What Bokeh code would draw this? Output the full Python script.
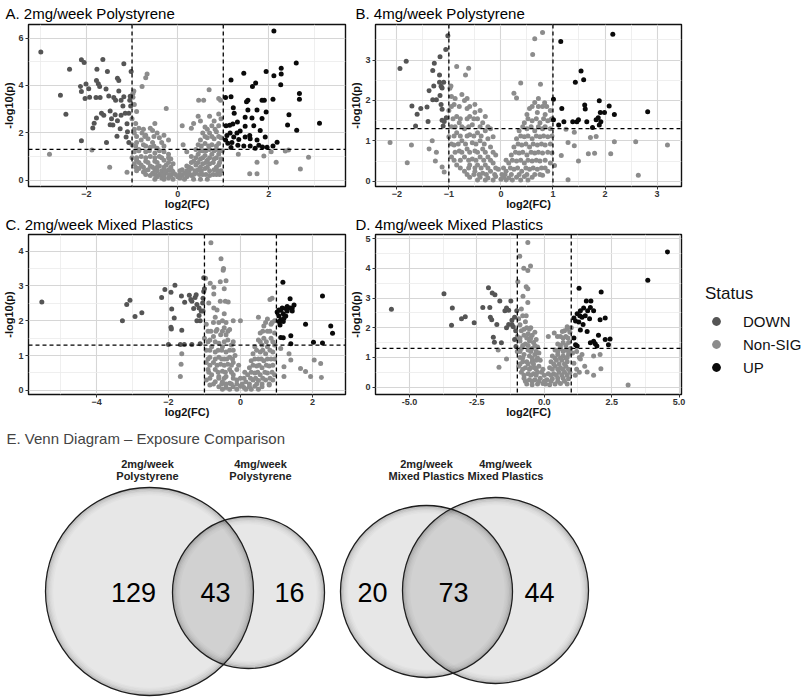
from bokeh.plotting import figure
from bokeh.layouts import column, row
from bokeh.models import (Range1d, FixedTicker, Span, Legend, LegendItem,
                          NumeralTickFormatter, ColumnDataSource)
from bokeh.embed import file_html
from bokeh.resources import INLINE
from bokeh.core.properties import value

# ---------------------------------------------------------------- data
STATUS = ["DOWN", "Non-SIG", "UP"]
STATUS_COLORS = ["#555555", "#8c8c8c", "#0a0a0a"]
FC_CUT = 1.0
P_CUT = 1.301

# Panel A: 2mg/week Polystyrene  (log2FC, -log10 p)
A_DOWN = [(-3.0,5.41),(-2.57,3.59),(-2.45,2.79),(-2.37,4.68),(-2.11,5.08),(-2.05,4.97),(-2.13,3.96),
          (-2.11,3.74),(-2.01,4.06),(-1.95,3.86),(-2.03,3.45),(-1.93,3.50),(-1.77,4.68),(-1.78,4.21),
          (-1.74,4.07),(-1.71,3.96),(-1.79,3.49),(-1.70,3.49),(-1.64,5.09),(-1.54,4.59),(-1.57,3.85),
          (-1.51,3.56),(-1.67,2.83),(-1.62,2.74),(-1.48,2.92),(-1.78,2.63),(-1.86,2.21),(-1.83,2.41),
          (-1.56,1.59),(-2.11,1.67),(-1.40,3.49),(-1.36,3.38),(-1.32,4.30),(-1.29,4.21),(-1.29,3.77),
          (-1.37,2.76),(-1.32,2.51),(-1.42,2.33),(-1.18,4.92),(-1.18,3.52),(-1.24,3.38),(-1.20,3.13),
          (-1.15,2.83),(-1.24,2.74),(-1.11,2.39),(-1.07,2.83),(-1.02,4.59),(-1.04,3.54),(-1.05,3.38),
          (-1.03,3.13),(-1.13,1.83),(-1.07,1.59),(-1.33,1.86),(-1.26,2.17),(-1.48,2.34),(-1.10,2.05),
          (-1.45,2.60)]
A_UP = [(2.11,6.30),(2.60,4.95),(2.27,4.73),(2.27,4.48),(2.11,4.41),(1.94,4.59),(1.45,4.51),(1.17,4.23),
        (1.71,4.10),(1.64,3.96),(2.26,4.03),(2.67,3.66),(2.67,3.42),(2.09,3.42),(1.90,3.38),(1.85,3.38),
        (1.54,3.38),(1.51,3.31),(1.17,3.52),(1.05,3.49),(1.22,3.06),(1.24,2.83),(1.54,2.97),(1.74,2.97),
        (1.94,2.88),(2.44,2.77),(2.41,2.33),(2.61,2.11),(3.11,2.41),(1.85,2.61),(1.63,2.63),(1.48,2.66),
        (1.31,2.46),(1.21,2.37),(1.14,2.32),(1.06,2.30),(1.48,2.28),(1.67,2.30),(1.81,2.10),(1.37,2.08),
        (1.30,2.00),(1.15,2.00),(1.08,1.89),(1.23,1.83),(1.05,1.70),(1.19,1.59),(1.34,1.72),(1.48,1.83),
        (1.59,1.75),(1.58,1.89),(1.74,1.70),(1.92,1.83),(1.78,1.48),(1.32,1.48),(1.45,1.45),(1.70,1.35),
        (1.86,1.41),(1.96,1.39),(2.18,1.61),(2.09,1.45),(1.10,1.56),(1.17,1.38),(1.59,1.45)]
A_NONSIG = [(-2.81,1.10),(-1.88,1.28),(-1.49,0.55),(-1.11,0.34),(-0.67,4.48),(-0.70,4.32),(-0.78,3.96),
            (-0.96,3.77),(-0.98,3.66),(-0.25,3.03),(0.69,3.82),(0.46,3.38),(0.57,3.38),(0.90,3.45),
            (0.94,3.38),(1.33,1.10),(1.74,0.76),(1.58,0.28),(1.74,0.28),(2.16,0.76),(2.36,1.24),
            (2.43,1.28),(2.69,0.48),(2.87,0.97),(2.05,1.20),(1.89,1.03),
            (-0.98,3.5),(-0.95,3.2),(-0.9,2.9),(-1.0,2.6),(-0.92,2.4),(-0.85,2.2),(-0.78,2.0),(-0.95,2.0),
            (-0.7,1.9),(-0.6,2.2),(-0.5,2.4),(-0.55,2.1),(-0.45,2.0),(-0.3,1.9),(-0.4,1.8),(-0.65,1.75),
            (-0.8,1.7),(-0.9,1.6),(-1.0,1.5),(-0.75,1.5),(-0.55,1.6),(-0.35,1.6),(-0.2,1.7),(-0.6,1.4),
            (-0.45,1.35),(-0.85,1.3),(-0.95,1.2),(-0.7,1.2),(-0.5,1.15),(-0.3,1.2),(-0.2,1.1),(-0.8,1.0),
            (-0.6,1.0),(-0.4,1.0),(-1.0,0.95),(-0.9,0.85),(-0.7,0.8),(-0.5,0.8),(-0.3,0.85),(-0.15,0.9),
            (-0.95,0.7),(-0.8,0.65),(-0.6,0.6),(-0.4,0.6),(-0.25,0.65),(-0.1,0.7),(-0.85,0.5),(-0.65,0.45),
            (-0.5,0.45),(-0.35,0.4),(-0.2,0.45),(-0.75,0.35),(-0.55,0.3),(-0.4,0.25),(-0.25,0.3),(-0.1,0.35),
            (-0.6,0.2),(-0.45,0.15),(-0.3,0.15),(-0.15,0.2),(0.0,0.15),(-0.05,0.25),(-0.2,0.1),(0.05,0.1),
            (-0.35,0.1),(0.1,0.2),(0.2,0.15),(0.3,0.2),(0.15,0.3),(0.25,0.35),(0.4,0.3),(0.55,0.25),
            (0.7,0.2),(0.85,0.25),(0.1,0.45),(0.3,0.5),(0.45,0.45),(0.6,0.5),(0.8,0.45),(0.95,0.4),
            (0.2,0.6),(0.4,0.65),(0.55,0.7),(0.7,0.7),(0.9,0.65),(0.35,0.8),(0.5,0.9),(0.65,0.85),
            (0.8,0.9),(0.95,0.9),(0.3,1.0),(0.45,1.1),(0.6,1.05),(0.75,1.1),(0.9,1.1),(0.2,1.2),
            (0.4,1.3),(0.55,1.25),(0.7,1.3),(0.85,1.3),(0.98,1.25),(0.45,1.5),(0.6,1.55),(0.75,1.5),
            (0.9,1.55),(0.5,1.7),(0.65,1.8),(0.8,1.75),(0.95,1.8),(0.55,2.0),(0.7,2.0),(0.85,2.05),
            (0.6,2.25),(0.75,2.3),(0.9,2.3),(0.5,2.5),(0.8,2.5),(0.95,2.6),(0.45,2.7),(0.7,2.7),
            (0.9,2.8),(0.35,2.4),(0.3,2.2),(0.1,2.3),(0.12,1.5)]
# further Non-SIG points of the dense core, listed row by row: (-log10 p, [log2FC ...])
A_NONSIG_ROWS = [(0.05, [-0.5,-0.3,-0.1,0.15,0.35,0.5,0.65]),
                 (0.25, [-0.7,-0.5,-0.32,-0.18,0.05,0.22,0.35,0.48,0.62,0.78,0.92]),
                 (0.40, [-0.9,-0.72,-0.45,-0.28,-0.12,0.05,0.2,0.38,0.52,0.7,0.88]),
                 (0.55, [-0.92,-0.75,-0.55,-0.45,-0.3,-0.15,0.25,0.5,0.65,0.85]),
                 (0.75, [-0.85,-0.65,-0.45,-0.2,0.3,0.45,0.62,0.78,0.92]),
                 (0.95, [-0.9,-0.7,-0.5,-0.35,-0.2,0.4,0.55,0.7,0.85]),
                 (1.25, [-0.85,-0.62,-0.4,0.5,0.62,0.8,0.92]),
                 (1.45, [-0.92,-0.7,-0.52,-0.3,0.52,0.68,0.85]),
                 (1.85, [-0.9,-0.72,-0.52,0.6,0.75,0.9]),
                 (2.15, [-0.95,-0.75,0.65,0.82])]

# Panel B: 4mg/week Polystyrene
B_DOWN = [(-1.94,2.79),(-1.82,2.97),(-1.71,1.86),(-1.61,1.66),(-1.54,1.80),(-1.64,1.37),(-1.42,1.84),
          (-1.40,1.48),(-1.38,2.24),(-1.31,2.74),(-1.28,2.92),(-1.29,2.36),(-1.31,2.02),(-1.24,2.02),
          (-1.17,3.08),(-1.18,2.63),(-1.18,2.45),(-1.15,2.35),(-1.13,2.31),(-1.17,2.12),(-1.15,1.90),
          (-1.13,1.78),(-1.13,1.51),(-1.09,1.48),(-1.11,1.37),(-1.06,3.26),(-1.02,3.60),(-1.05,1.57),
          (-1.10,2.45)]
B_UP = [(2.15,3.64),(1.15,3.46),(1.54,2.73),(1.43,2.45),(1.59,2.51),(1.61,1.89),(1.62,1.79),(1.89,1.99),
        (2.08,1.86),(1.99,1.70),(2.18,1.65),(2.82,1.72),(1.17,1.80),(1.01,2.03),(1.01,1.52),(1.11,1.39),
        (1.21,1.47),(1.38,1.47),(1.46,1.47),(1.49,1.52),(1.65,1.47),(1.83,1.52),(1.87,1.57),(1.92,1.47),
        (1.89,1.39),(1.91,1.70),(1.76,1.33)]
B_NONSIG = [(-2.13,0.96),(-1.72,0.90),(-1.80,0.46),(-1.38,0.80),(-1.32,1.00),(-1.26,0.50),(-1.24,0.72),
            (-1.13,0.35),(-1.09,0.23),(-0.85,2.84),(-0.62,2.80),(-0.68,2.63),(-0.96,2.36),(0.61,3.14),
            (0.65,3.53),(0.80,3.68),(0.25,2.18),(0.38,2.43),(0.30,2.06),(0.76,2.40),(0.84,1.94),(0.96,1.53),
            (1.29,0.96),(1.41,0.88),(1.49,0.50),(1.68,0.68),(1.80,0.69),(1.72,1.08),(1.83,1.11),(2.11,0.68),
            (2.18,0.98),(2.59,0.98),(2.64,0.15),(3.20,0.90),(1.29,0.04),(1.16,0.64),(1.03,0.39),(1.25,1.29),
            (1.41,1.21),
            (-0.98,2.3),(-0.95,2.1),(-0.9,1.9),(-1.0,1.75),(-0.85,1.6),(-0.75,2.15),(-0.7,2.0),(-0.65,1.8),
            (-0.8,1.45),(-0.95,1.35),(-0.6,1.6),(-0.55,1.4),(-0.5,1.7),(-0.45,1.55),(-0.35,1.45),(-0.3,1.6),
            (-0.7,1.3),(-0.85,1.2),(-1.0,1.1),(-0.6,1.15),(-0.45,1.2),(-0.3,1.25),(-0.2,1.3),(-0.75,1.0),
            (-0.9,0.9),(-0.55,0.95),(-0.4,1.0),(-0.25,1.05),(-0.15,1.1),(-0.8,0.75),(-0.65,0.8),(-0.5,0.75),
            (-0.35,0.8),(-0.2,0.85),(-0.95,0.6),(-0.7,0.6),(-0.55,0.55),(-0.4,0.6),(-0.25,0.6),(-0.1,0.65),
            (-0.85,0.4),(-0.6,0.4),(-0.45,0.4),(-0.3,0.4),(-0.15,0.45),(-0.7,0.25),(-0.5,0.25),(-0.35,0.2),
            (-0.2,0.25),(-0.05,0.3),(-0.6,0.1),(-0.4,0.1),(-0.25,0.08),(-0.1,0.12),(0.0,0.05),(-0.5,1.9),
            (-0.4,1.75),(0.05,0.1),(0.15,0.08),(0.3,0.1),(0.45,0.12),(0.6,0.1),(0.8,0.15),(0.1,0.25),
            (0.25,0.3),(0.4,0.25),(0.55,0.3),(0.7,0.3),(0.9,0.25),(0.15,0.45),(0.3,0.5),(0.45,0.45),
            (0.6,0.5),(0.75,0.5),(0.95,0.45),(0.2,0.65),(0.35,0.7),(0.5,0.65),(0.65,0.7),(0.8,0.7),
            (0.98,0.7),(0.25,0.85),(0.4,0.9),(0.55,0.85),(0.7,0.9),(0.85,0.9),(0.3,1.05),(0.45,1.1),
            (0.6,1.05),(0.75,1.1),(0.9,1.1),(0.35,1.25),(0.5,1.3),(0.65,1.25),(0.8,1.3),(0.95,1.3),
            (0.45,1.45),(0.6,1.5),(0.75,1.45),(0.9,1.5),(0.5,1.65),(0.7,1.7),(0.85,1.65),(0.55,1.8),
            (0.8,1.85),(0.65,1.95),(0.95,1.75)]
B_NONSIG_ROWS = [(0.03, [-0.45,-0.3,-0.15,0.1,0.22,0.38,0.52]),
                 (0.17, [-0.65,-0.52,-0.42,-0.28,-0.12,0.02,0.08,0.2,0.35,0.5,0.65,0.75]),
                 (0.33, [-0.78,-0.62,-0.5,-0.38,-0.25,-0.1,0.05,0.18,0.32,0.48,0.62,0.78,0.85]),
                 (0.52, [-0.9,-0.78,-0.62,-0.48,-0.33,-0.2,0.1,0.22,0.38,0.52,0.68,0.85]),
                 (0.72, [-0.88,-0.75,-0.6,-0.45,-0.3,-0.15,0.28,0.42,0.58,0.72,0.9]),
                 (0.92, [-0.95,-0.82,-0.68,-0.48,-0.32,0.33,0.48,0.62,0.78,0.95]),
                 (1.12, [-0.9,-0.78,-0.65,-0.52,-0.38,0.38,0.52,0.68,0.82,0.98]),
                 (1.35, [-0.88,-0.75,-0.62,-0.4,-0.25,0.42,0.58,0.72,0.85]),
                 (1.55, [-0.92,-0.78,-0.65,-0.52,0.52,0.68,0.82,0.98]),
                 (1.85, [-0.95,-0.8,-0.6,0.6,0.72,0.88]),
                 (2.05, [-0.88,-0.65,0.72])]

# Panel C: 2mg/week Mixed Plastics
C_DOWN = [(-5.52,2.54),(-3.28,2.00),(-3.16,2.47),(-3.07,2.59),(-2.93,2.12),(-2.74,2.23),(-2.19,2.67),
          (-2.10,2.90),(-1.93,2.82),(-1.82,3.02),(-1.91,2.34),(-1.84,2.08),(-1.93,1.81),(-1.92,1.76),
          (-1.64,2.71),(-1.55,2.53),(-1.42,2.73),(-1.38,2.61),(-1.35,2.56),(-1.26,2.67),(-1.23,2.75),
          (-1.21,2.47),(-1.30,2.35),(-1.15,2.37),(-1.09,2.28),(-1.02,3.24),(-1.02,2.84),(-1.05,2.51),
          (-1.12,2.00),(-1.15,2.15),(-1.21,2.00),(-1.63,1.73),(-1.67,1.32),(-2.00,1.32),(-1.56,1.32),
          (-1.35,1.32),(-1.12,1.34),(-1.00,2.92),(-1.04,2.65),(-1.04,2.28)]
C_UP = [(1.18,3.11),(2.28,2.71),(1.38,2.63),(1.49,2.45),(1.44,2.37),(1.38,2.37),(1.30,2.41),(1.26,2.35),
        (1.16,2.37),(1.12,2.30),(1.07,2.31),(1.02,2.25),(1.30,2.28),(1.44,2.28),(1.19,2.20),(1.26,2.14),
        (1.21,2.07),(1.13,2.03),(1.07,1.98),(1.19,1.98),(1.10,1.88),(1.81,1.90),(2.51,1.85),(2.56,1.64),
        (1.40,1.57),(1.12,1.52),(1.19,1.51),(1.40,1.34),(2.03,1.38),(2.28,1.36),(1.07,2.14)]
C_NONSIG = [(-0.82,4.24),(-0.54,3.78),(-0.47,3.50),(-0.48,3.45),(-0.97,3.22),(-0.84,3.08),(-0.56,3.12),
            (-0.40,3.15),(-0.45,2.92),(-0.74,2.96),(-0.74,2.77),(-0.56,2.56),(-0.42,2.56),(-0.34,2.54),
            (-0.88,2.51),(-0.74,2.37),(-0.65,2.31),(-1.63,1.05),(-1.65,0.75),(-1.67,0.40),(0.82,2.61),
            (0.88,2.65),(1.67,0.63),(1.81,0.54),(1.95,0.40),(2.25,0.37),(2.05,0.87),(2.23,0.77),(1.40,0.87),
            (1.35,1.05),(1.21,0.68),(1.21,0.40),(1.12,1.20),
            (-0.95,1.9),(-0.9,1.7),(-1.0,1.5),(-0.85,1.45),(-0.7,2.1),(-0.6,1.95),(-0.65,1.75),(-0.5,2.0),
            (-0.45,1.8),(-0.55,1.6),(-0.75,1.55),(-0.4,1.6),(-0.3,1.75),(-0.35,1.45),(-0.6,1.35),(-0.8,1.25),
            (-0.95,1.15),(-0.5,1.25),(-0.25,1.3),(-0.7,1.1),(-0.4,1.1),(-0.2,1.15),(-0.85,0.95),(-0.6,0.95),
            (-0.45,0.9),(-0.3,0.95),(-0.15,1.0),(-0.95,0.8),(-0.75,0.8),(-0.55,0.75),(-0.35,0.75),(-0.2,0.8),
            (-0.9,0.6),(-0.7,0.6),(-0.5,0.55),(-0.3,0.6),(-0.1,0.6),(-0.8,0.45),(-0.6,0.4),(-0.4,0.4),
            (-0.2,0.45),(-0.95,0.3),(-0.7,0.25),(-0.5,0.25),(-0.3,0.2),(-0.1,0.3),(-0.6,0.1),(-0.4,0.08),
            (-0.2,0.1),(0.0,0.12),(-0.85,0.15),(-0.45,2.2),(-0.2,2.0),
            (0.1,0.08),(0.25,0.1),(0.4,0.12),(0.6,0.1),(0.8,0.15),(0.15,0.25),(0.35,0.3),(0.5,0.28),
            (0.7,0.3),(0.9,0.3),(0.2,0.45),(0.4,0.5),(0.55,0.45),(0.75,0.5),(0.95,0.45),(0.25,0.65),
            (0.45,0.7),(0.6,0.65),(0.8,0.7),(0.3,0.85),(0.5,0.9),(0.65,0.85),(0.85,0.9),(0.35,1.05),
            (0.55,1.1),(0.7,1.05),(0.9,1.1),(0.4,1.25),(0.6,1.3),(0.75,1.25),(0.95,1.3),(0.5,1.45),
            (0.65,1.5),(0.85,1.5),(0.55,1.65),(0.75,1.7),(0.95,1.65),(0.65,1.85),(0.85,1.9),(0.75,2.05),
            (0.95,2.0),(0.5,2.1),(0.0,2.0)]
C_NONSIG_ROWS = [(0.03, [-0.5,-0.3,-0.1,0.15,0.3,0.5]),
                 (0.18, [-0.75,-0.52,-0.4,-0.25,-0.1,0.05,0.25,0.45,0.6,0.8]),
                 (0.35, [-0.85,-0.6,-0.45,-0.2,0.0,0.1,0.28,0.42,0.62,0.82]),
                 (0.52, [-0.88,-0.62,-0.42,-0.25,0.12,0.3,0.48,0.68,0.88]),
                 (0.72, [-0.85,-0.65,-0.45,-0.25,-0.05,0.35,0.52,0.72,0.9]),
                 (0.90, [-0.9,-0.7,-0.52,-0.38,-0.22,0.4,0.58,0.75,0.95]),
                 (1.15, [-0.85,-0.62,-0.52,-0.3,0.45,0.62,0.82]),
                 (1.40, [-0.9,-0.7,-0.45,-0.2,0.55,0.72,0.9]),
                 (1.70, [-0.82,-0.68,-0.5,-0.35,0.62,0.82]),
                 (1.95, [-0.75,-0.4,0.7,0.88])]

# Panel D: 4mg/week Mixed Plastics
D_DOWN = [(-5.67,2.62),(-3.72,3.14),(-3.41,2.66),(-3.44,2.08),(-3.07,2.30),(-2.93,2.37),(-2.60,2.17),
          (-2.28,2.68),(-2.07,3.35),(-1.93,3.17),(-1.83,3.11),(-2.02,2.68),(-2.00,2.35),(-1.95,2.27),
          (-1.76,2.11),(-1.89,1.68),(-1.85,1.51),(-1.65,2.90),(-1.46,2.57),(-1.40,2.66),(-1.32,2.59),
          (-1.32,2.11),(-1.40,2.00),(-1.24,2.90),(-1.20,2.25),(-1.20,2.11),(-1.15,2.03),(-1.10,2.35),
          (-1.06,1.90),(-1.02,2.57),(-1.59,1.49),(-1.10,1.60),(-1.05,1.37)]
D_UP = [(4.57,4.55),(3.84,3.60),(1.29,3.33),(2.11,3.20),(1.56,2.90),(2.26,2.33),(2.07,2.27),(1.71,2.68),
        (1.46,2.66),(1.34,2.57),(1.22,2.47),(1.32,2.40),(1.10,2.33),(1.16,2.23),(1.28,2.19),(1.40,2.35),
        (1.52,2.40),(1.61,2.57),(1.68,2.30),(1.44,2.11),(1.59,1.87),(1.34,1.92),(1.10,1.65),(2.01,1.75),
        (2.26,1.60),(2.44,1.62),(2.38,1.43),(1.83,1.54),(1.89,1.46),(1.95,1.38),(1.71,1.49),(1.16,1.43),
        (1.22,1.38),(1.73,2.90),(1.83,2.57)]
D_NONSIG = [(-0.61,4.87),(-0.91,4.41),(-0.76,4.00),(-0.61,3.93),(-0.51,4.08),(-0.98,3.55),(-0.67,3.38),
            (-0.61,3.31),(-0.79,3.06),(-0.61,2.85),(-0.85,2.63),(-0.67,2.40),(-1.71,1.25),(-1.68,0.67),
            (-1.40,0.95),(3.11,0.07),(1.83,1.05),(2.07,1.10),(2.10,0.62),(1.59,0.51),(1.83,0.40),(1.34,0.95),
            (0.85,2.03),(0.67,1.87),(0.49,1.70),(0.15,1.70),(0.37,1.82),
            (-0.95,2.3),(-0.9,2.1),(-0.85,1.9),(-1.0,1.7),(-0.8,2.4),(-0.7,2.2),(-0.65,2.0),(-0.75,1.75),
            (-0.9,1.55),(-0.6,1.8),(-0.5,2.0),(-0.45,1.75),(-0.55,1.55),(-0.7,1.45),(-0.85,1.3),(-1.0,1.2),
            (-0.4,1.5),(-0.3,1.6),(-0.6,1.25),(-0.45,1.3),(-0.25,1.35),(-0.75,1.1),(-0.9,1.0),(-0.55,1.05),
            (-0.35,1.1),(-0.2,1.15),(-0.8,0.85),(-0.65,0.85),(-0.45,0.85),(-0.3,0.9),(-0.15,0.9),(-0.95,0.7),
            (-0.7,0.65),(-0.5,0.65),(-0.35,0.65),(-0.2,0.7),(-0.85,0.5),(-0.6,0.45),(-0.4,0.45),(-0.25,0.5),
            (-0.1,0.5),(-0.75,0.3),(-0.55,0.25),(-0.35,0.25),(-0.15,0.3),(-0.65,0.1),(-0.45,0.08),(-0.25,0.1),
            (-0.05,0.12),(-0.35,1.85),
            (0.05,0.1),(0.2,0.08),(0.4,0.1),(0.6,0.12),(0.85,0.1),(0.1,0.25),(0.3,0.28),(0.5,0.3),
            (0.7,0.3),(0.9,0.28),(0.15,0.45),(0.35,0.45),(0.55,0.5),(0.75,0.5),(0.95,0.5),(0.2,0.65),
            (0.4,0.7),(0.6,0.65),(0.8,0.7),(0.25,0.85),(0.45,0.9),(0.65,0.9),(0.85,0.85),(0.3,1.05),
            (0.5,1.1),(0.7,1.05),(0.9,1.1),(0.4,1.25),(0.6,1.3),(0.8,1.25),(0.98,1.3),(0.5,1.45),
            (0.7,1.5),(0.9,1.5),(0.6,1.7),(0.8,1.7),(0.95,1.85),(0.75,1.9),(1.0,2.0),(0.85,1.0),
            (1.1,0.8),(1.2,0.6),(1.05,1.15),(1.3,1.0),(1.15,0.4),(1.2,1.2),(1.4,1.1),(1.5,0.7),(1.3,0.5)]
D_NONSIG_ROWS = [(0.20, [-0.7,-0.45,-0.2,0.0,0.25,0.5,0.75]),
                 (0.40, [-0.75,-0.5,-0.3,0.0,0.25,0.45,0.65,0.85]),
                 (0.60, [-0.8,-0.55,-0.3,-0.05,0.3,0.5,0.7,0.9]),
                 (0.78, [-0.9,-0.6,-0.4,0.35,0.55,0.75]),
                 (0.98, [-0.8,-0.45,-0.25,0.4,0.6,0.8]),
                 (1.20, [-0.9,-0.5,-0.3,0.5,0.7,0.9]),
                 (1.40, [-0.8,-0.6,-0.35,0.6,0.8]),
                 (1.65, [-0.9,-0.65,-0.5,0.7,0.88]),
                 (1.95, [-0.75,-0.55,0.85])]

# Venn counts: only-first, shared, only-second
VENN_PS_SETS = ["2mg/week\nPolystyrene", "4mg/week\nPolystyrene"]
VENN_PS_COUNTS = [129, 43, 16]
VENN_MP_SETS = ["2mg/week\nMixed Plastics", "4mg/week\nMixed Plastics"]
VENN_MP_COUNTS = [20, 73, 44]

FONT = "Liberation Sans"


def rows_to_points(rows):
    return [(xv, yv) for yv, xs in rows for xv in xs]


def style_axes(p, xticks, xminor, yticks, yminor):
    xt = FixedTicker(ticks=xticks, minor_ticks=xminor)
    yt = FixedTicker(ticks=yticks, minor_ticks=yminor)
    p.xaxis.ticker = xt
    p.xgrid.ticker = xt
    p.yaxis.ticker = yt
    p.ygrid.ticker = yt
    for ax in (p.xaxis[0], p.yaxis[0]):
        ax.axis_line_color = None
        ax.major_tick_line_color = "#333333"
        ax.major_tick_out = 3
        ax.major_tick_in = 0
        ax.minor_tick_line_color = None
        ax.major_label_text_font = FONT
        ax.major_label_text_font_size = "9px"
        ax.major_label_text_font_style = "bold"
        ax.major_label_text_color = "#333333"
        ax.axis_label_text_font = FONT
        ax.axis_label_text_font_style = "bold"
        ax.axis_label_text_color = "#111111"
        ax.axis_label_text_font_size = "11px"
    p.xaxis.major_label_standoff = 0
    p.xaxis.axis_label_standoff = -2
    p.yaxis.major_label_standoff = 1
    p.yaxis.axis_label_standoff = 0
    p.xaxis.axis_label = "log2(FC)"
    p.yaxis.axis_label = "-log10(p)"
    p.grid.grid_line_color = "#d6d6d6"
    p.grid.grid_line_width = 1.1
    p.grid.minor_grid_line_color = "#ebebeb"
    p.grid.minor_grid_line_width = 0.8
    p.outline_line_color = "#111111"
    p.outline_line_width = 1.4


def volcano(title, xr, yr, xticks, xminor, yticks, yminor, down, nonsig, up,
            width, height, mbl, mbr, mbt, title_offset, title_standoff):
    p = figure(width=width, height=height, x_range=Range1d(*xr), y_range=Range1d(*yr),
               output_backend="svg", toolbar_location=None, title=title,
               min_border_left=mbl, min_border_right=mbr, min_border_top=mbt,
               min_border_bottom=22, background_fill_color="white",
               border_fill_color="white")
    p.title.text_font = FONT
    p.title.text_font_size = "15px"
    p.title.text_font_style = "normal"
    p.title.text_color = "#000000"
    p.title.align = "left"
    p.title.offset = title_offset
    p.title.standoff = title_standoff
    style_axes(p, xticks, xminor, yticks, yminor)

    for pts, col in ((nonsig, STATUS_COLORS[1]), (down, STATUS_COLORS[0]), (up, STATUS_COLORS[2])):
        src = ColumnDataSource(dict(x=[a for a, b in pts], y=[b for a, b in pts]))
        p.scatter("x", "y", source=src, size=5, fill_color=col, line_color=None)
    for loc, dim in ((-FC_CUT, "height"), (FC_CUT, "height"), (P_CUT, "width")):
        p.add_layout(Span(location=loc, dimension=dim, line_color="black",
                          line_width=1.3, line_dash="4 3"))
    return p


pA = volcano("A. 2mg/week Polystyrene", (-3.27, 3.68), (-0.26, 6.57),
             [-2, 0, 2], [-3, -1, 1, 3], [0, 2, 4, 6], [1, 3, 5],
             A_DOWN, A_NONSIG + rows_to_points(A_NONSIG_ROWS), A_UP,
             width=347, height=212, mbl=28, mbr=2, mbt=23, title_offset=-23, title_standoff=5)
pB = volcano("B. 4mg/week Polystyrene", (-2.41, 3.47), (-0.13, 3.88),
             [-2, -1, 0, 1, 2, 3], [-2.5, -1.5, -0.5, 0.5, 1.5, 2.5, 3.5],
             [0, 1, 2, 3], [0.5, 1.5, 2.5, 3.5],
             B_DOWN, B_NONSIG + rows_to_points(B_NONSIG_ROWS), B_UP,
             width=343, height=212, mbl=26, mbr=9, mbt=23, title_offset=-20, title_standoff=5)
pC = volcano("C. 2mg/week Mixed Plastics", (-5.89, 2.92), (-0.12, 4.48),
             [-4, -2, 0, 2], [-5, -3, -1, 1, 3], [0, 1, 2, 3, 4], [0.5, 1.5, 2.5, 3.5],
             C_DOWN, C_NONSIG + rows_to_points(C_NONSIG_ROWS), C_UP,
             width=347, height=208, mbl=28, mbr=2, mbt=21, title_offset=-23, title_standoff=3)
pD = volcano("D. 4mg/week Mixed Plastics", (-6.26, 5.09), (-0.25, 5.14),
             [-5, -2.5, 0, 2.5, 5], [-3.75, -1.25, 1.25, 3.75],
             [0, 1, 2, 3, 4, 5], [0.5, 1.5, 2.5, 3.5, 4.5],
             D_DOWN, D_NONSIG + rows_to_points(D_NONSIG_ROWS), D_UP,
             width=343, height=208, mbl=26, mbr=9, mbt=21, title_offset=-20, title_standoff=3)
pD.xaxis.formatter = NumeralTickFormatter(format="0.0")

# ---------------------------------------------------------------- legend panel
pL = figure(width=120, height=208, x_range=Range1d(0, 1), y_range=Range1d(0, 1),
            output_backend="svg", toolbar_location=None,
            min_border_left=0, min_border_right=0, min_border_top=0, min_border_bottom=0)
pL.axis.visible = False
pL.grid.visible = False
pL.outline_line_color = None
items = []
for lab_txt, col in zip(STATUS, STATUS_COLORS):
    # legend key only: one undrawn (NaN) point so the key picks up the colour
    r = pL.scatter(x=[float("nan")], y=[float("nan")], size=8, fill_color=col, line_color=None)
    items.append(LegendItem(label=lab_txt, renderers=[r]))
legend = Legend(items=items, title="Status", location=(15, 16), orientation="vertical",
                title_text_font=FONT, title_text_font_size="17px", title_text_font_style="normal",
                title_text_color="#111111", title_standoff=6,
                label_text_font=FONT, label_text_font_size="15px", label_text_color="#111111",
                label_standoff=16, glyph_width=22, glyph_height=22, label_height=22,
                spacing=1, padding=8, margin=0, border_line_color=None,
                background_fill_alpha=0)
pL.add_layout(legend)

# ---------------------------------------------------------------- Venn
# layout geometry in page pixels: (centre x, centre y, radius)
VENN_GEOM = {"ps": [(149, 591, 104), (248, 592, 76)],
             "mp": [(426, 591, 86), (495, 590, 93)]}
VENN_LABEL_X = {"ps": [147, 260], "mp": [426, 505]}
VENN_LABEL_Y = [463, 475]
VENN_NUM_X = {"ps": [133, 215, 289], "mp": [372, 453, 539]}
VENN_NUM_Y = 592

pV = figure(width=810, height=277, x_range=Range1d(0, 810), y_range=Range1d(697, 448),
            output_backend="svg", toolbar_location=None,
            title="E. Venn Diagram \u2013 Exposure Comparison",
            min_border_left=0, min_border_right=0, min_border_top=28, min_border_bottom=0)
pV.title.text_font = FONT
pV.title.text_font_size = "15px"
pV.title.text_font_style = "normal"
pV.title.align = "left"
pV.title.offset = 6
pV.title.standoff = 4
pV.axis.visible = False
pV.grid.visible = False
pV.outline_line_color = None

circ = dict(x=[], y=[], r=[])
for key in ("ps", "mp"):
    for cx, cy, rr in VENN_GEOM[key]:
        circ["x"].append(cx); circ["y"].append(cy); circ["r"].append(rr)
csrc = ColumnDataSource(circ)
pV.circle("x", "y", radius="r", source=csrc, fill_color="black", fill_alpha=0.095, line_color=None)
for k, a in ((1.2, 0.16), (2.6, 0.11), (4.0, 0.07), (5.5, 0.04), (7.0, 0.02)):
    rk = ColumnDataSource(dict(x=circ["x"], y=circ["y"], r=[rr - k for rr in circ["r"]]))
    pV.circle("x", "y", radius="r", source=rk, fill_color=None, line_color="black",
              line_alpha=a, line_width=1.6)
pV.circle("x", "y", radius="r", source=csrc, fill_color=None, line_color="#1e1e1e", line_width=1.3)

lab = dict(x=[], y=[], t=[])
for key, sets in (("ps", VENN_PS_SETS), ("mp", VENN_MP_SETS)):
    for xi, s in zip(VENN_LABEL_X[key], sets):
        l1, l2 = s.split("\n")
        lab["x"] += [xi, xi]; lab["y"] += VENN_LABEL_Y; lab["t"] += [l1, l2]
pV.text("x", "y", text="t", source=ColumnDataSource(lab), text_font=value(FONT),
        text_font_size="11px", text_font_style="bold", text_align="center",
        text_baseline="middle", text_color="#222222")

num = dict(x=VENN_NUM_X["ps"] + VENN_NUM_X["mp"], y=[VENN_NUM_Y] * 6,
           t=[str(v) for v in VENN_PS_COUNTS + VENN_MP_COUNTS])
pV.text("x", "y", text="t", source=ColumnDataSource(num), text_font=value(FONT),
        text_font_size="27px", text_align="center", text_baseline="middle", text_color="#000000")

layout = column(row(pA, pB), row(pC, pD, pL), pV)
open("out.html", "w").write(file_html(layout, INLINE))
